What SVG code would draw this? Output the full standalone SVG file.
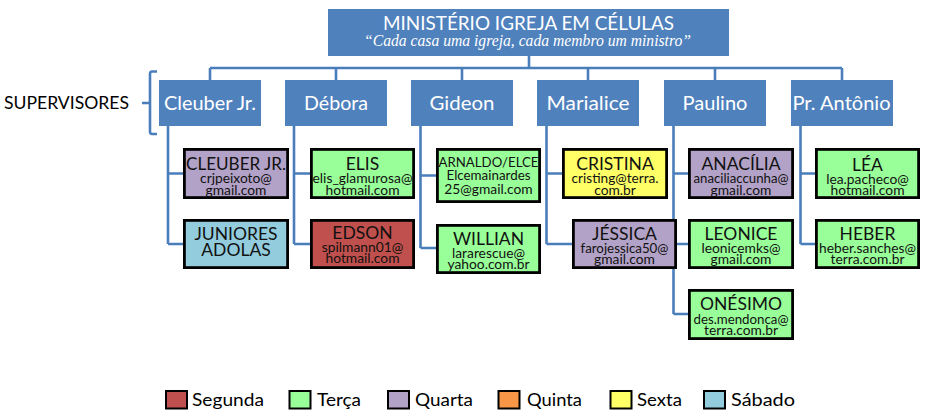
<svg xmlns="http://www.w3.org/2000/svg" width="925" height="411" viewBox="0 0 925 411">
<style>
text{font-family:Lato,"Liberation Sans",sans-serif;text-anchor:middle}
.sup rect{fill:#4F81BD}
.sup text{fill:#fff;font-size:19px}
.cell rect{stroke:#000;stroke-width:2.8}
.cell text{fill:#111}
.nm{font-size:17.5px}
.em{font-size:13.8px}
.conn{fill:none;stroke:#4A7EBB;stroke-width:2.6}
.seg{fill:#C0504D}.ter{fill:#99FF99}.qua{fill:#B3A2C7}.qui{fill:#F79646}.sex{fill:#FFFF66}.sab{fill:#93CDDD}
.leg rect{stroke:#000;stroke-width:2}
.leg text{font-size:17.5px;text-anchor:start;fill:#000}
</style>
<rect width="925" height="411" fill="#fff"/>
<g id="connectors" class="conn">
<path d="M529,56V68M210,68H842M210,68V80M336,68V80M462,68V80M588,68V80M715,68V80M842,68V80"/>
<path d="M168,126V244M168,173.5H183M168,244H183"/>
<path d="M294,126V244M294,173.5H310M294,244H310"/>
<path d="M420.5,126V248M420.5,175.5H436M420.5,248H436"/>
<path d="M546.5,126V244M546.5,173.5H562M546.5,244H572"/>
<path d="M673.5,126V314M673.5,173.5H688M673.5,244H688M673.5,314H688"/>
<path d="M800.5,126V244M800.5,173.5H815M800.5,244H815"/>
</g>
<g id="bracket" class="conn">
<path d="M157,71.5H152Q150,71.5 150,74V131.5Q150,134 152,134H157M150,103H142"/>
</g>
<text id="supervisores" x="66.5" y="109" font-size="18" textLength="125" lengthAdjust="spacingAndGlyphs" fill="#000">SUPERVISORES</text>
<g id="title" class="sup">
<rect x="328" y="9" width="401" height="47"/>
<text x="528.5" y="29.5" font-size="20" textLength="291" lengthAdjust="spacingAndGlyphs">MINISTÉRIO IGREJA EM CÉLULAS</text>
<text x="527.5" y="46" style="font-family:'Liberation Serif',serif;font-style:italic;font-size:16px" textLength="327" lengthAdjust="spacingAndGlyphs">“Cada casa uma igreja, cada membro um ministro”</text>
</g>
<g id="sup-cleuber" class="sup"><rect x="159" y="80" width="102" height="46"/><text x="210" y="110" textLength="92" lengthAdjust="spacingAndGlyphs">Cleuber Jr.</text></g>
<g id="sup-debora" class="sup"><rect x="285" y="80" width="102" height="46"/><text x="336" y="110" textLength="64" lengthAdjust="spacingAndGlyphs">Débora</text></g>
<g id="sup-gideon" class="sup"><rect x="411" y="80" width="102" height="46"/><text x="462" y="110" textLength="65" lengthAdjust="spacingAndGlyphs">Gideon</text></g>
<g id="sup-marialice" class="sup"><rect x="537" y="80" width="102" height="46"/><text x="588" y="110" textLength="83" lengthAdjust="spacingAndGlyphs">Marialice</text></g>
<g id="sup-paulino" class="sup"><rect x="664" y="80" width="102" height="46"/><text x="715" y="110" textLength="65" lengthAdjust="spacingAndGlyphs">Paulino</text></g>
<g id="sup-antonio" class="sup"><rect x="791" y="80" width="102" height="46"/><text x="841.5" y="110" textLength="98" lengthAdjust="spacingAndGlyphs">Pr. Antônio</text></g>

<g id="cleuber" class="cell"><rect class="qua" x="184.4" y="149.4" width="103.2" height="48.2"/><text class="nm" x="236" y="170" textLength="100" lengthAdjust="spacingAndGlyphs">CLEUBER JR.</text><text class="em" x="236" y="183.3">crjpeixoto@</text><text class="em" x="236" y="194.5">gmail.com</text></g>
<g id="juniores" class="cell"><rect class="sab" x="184.4" y="220.4" width="103.2" height="47.2"/><text class="nm" x="236" y="240">JUNIORES</text><text class="nm" x="236" y="255.5">ADOLAS</text></g>
<g id="elis" class="cell"><rect class="ter" x="311.4" y="149.4" width="102.2" height="48.2"/><text class="nm" x="362.5" y="170">ELIS</text><text class="em" x="362.5" y="183.3" textLength="100" lengthAdjust="spacingAndGlyphs">elis_glamurosa@</text><text class="em" x="362.5" y="194.5">hotmail.com</text></g>
<g id="edson" class="cell"><rect class="seg" x="311.4" y="220.4" width="102.2" height="47.2"/><text class="nm" x="362.5" y="239">EDSON</text><text class="em" x="362.5" y="252">spilmann01@</text><text class="em" x="362.5" y="263">hotmail.com</text></g>
<g id="arnaldo" class="cell"><rect class="ter" x="437.4" y="149.4" width="102.2" height="52.2"/><text class="em" x="488.5" y="166.7" textLength="100" lengthAdjust="spacingAndGlyphs">ARNALDO/ELCE</text><text class="em" x="488.5" y="180" textLength="84" lengthAdjust="spacingAndGlyphs">Elcemainardes</text><text class="em" x="488.5" y="193.5">25@gmail.com</text></g>
<g id="willian" class="cell"><rect class="ter" x="437.4" y="225.4" width="102.2" height="47.2"/><text class="nm" x="488.5" y="245">WILLIAN</text><text class="em" x="488.5" y="258">lararescue@</text><text class="em" x="488.5" y="269">yahoo.com.br</text></g>
<g id="cristina" class="cell"><rect class="sex" x="563.4" y="149.4" width="103.2" height="48.2"/><text class="nm" x="615" y="170">CRISTINA</text><text class="em" x="615" y="183.3" textLength="87" lengthAdjust="spacingAndGlyphs">cristing@terra.</text><text class="em" x="615" y="194.5">com.br</text></g>
<g id="jessica" class="cell"><rect class="qua" x="573.4" y="220.4" width="102.2" height="47.2"/><text class="nm" x="624.5" y="240">JÉSSICA</text><text class="em" x="624.5" y="253" textLength="88" lengthAdjust="spacingAndGlyphs">farojessica50@</text><text class="em" x="624.5" y="264">gmail.com</text></g>
<g id="anacilia" class="cell"><rect class="qua" x="689.4" y="149.4" width="103.2" height="48.2"/><text class="nm" x="741" y="170">ANACÍLIA</text><text class="em" x="741" y="183.3" textLength="95" lengthAdjust="spacingAndGlyphs">anaciliaccunha@</text><text class="em" x="741" y="194.5">gmail.com</text></g>
<g id="leonice" class="cell"><rect class="ter" x="689.4" y="220.4" width="103.2" height="47.2"/><text class="nm" x="741" y="240">LEONICE</text><text class="em" x="741" y="253">leonicemks@</text><text class="em" x="741" y="264">gmail.com</text></g>
<g id="onesimo" class="cell"><rect class="ter" x="689.4" y="290.4" width="103.2" height="48.2"/><text class="nm" x="741" y="310">ONÉSIMO</text><text class="em" x="741" y="323.5" textLength="95" lengthAdjust="spacingAndGlyphs">des.mendonca@</text><text class="em" x="741" y="334.5">terra.com.br</text></g>
<g id="lea" class="cell"><rect class="ter" x="816.4" y="149.4" width="102.2" height="48.2"/><text class="nm" x="867.5" y="171">LÉA</text><text class="em" x="867.5" y="184">lea.pacheco@</text><text class="em" x="867.5" y="194.5">hotmail.com</text></g>
<g id="heber" class="cell"><rect class="ter" x="816.4" y="220.4" width="102.2" height="47.2"/><text class="nm" x="867.5" y="240">HEBER</text><text class="em" x="867.5" y="253" textLength="97" lengthAdjust="spacingAndGlyphs">heber.sanches@</text><text class="em" x="867.5" y="264">terra.com.br</text></g>

<g id="legend" class="leg">
<rect class="seg" x="166" y="391" width="21" height="17.5"/><text x="192" y="406" textLength="72" lengthAdjust="spacingAndGlyphs">Segunda</text>
<rect class="ter" x="289.5" y="391" width="21" height="17.5"/><text x="317" y="406" textLength="44" lengthAdjust="spacingAndGlyphs">Terça</text>
<rect class="qua" x="388" y="391" width="21" height="17.5"/><text x="415" y="406" textLength="58" lengthAdjust="spacingAndGlyphs">Quarta</text>
<rect class="qui" x="498.5" y="391" width="21" height="17.5"/><text x="527" y="406" textLength="55" lengthAdjust="spacingAndGlyphs">Quinta</text>
<rect class="sex" x="610.5" y="391" width="21" height="17.5"/><text x="637" y="406" textLength="45" lengthAdjust="spacingAndGlyphs">Sexta</text>
<rect class="sab" x="704" y="391" width="21" height="17.5"/><text x="731" y="406" textLength="64" lengthAdjust="spacingAndGlyphs">Sábado</text>
</g>
</svg>
